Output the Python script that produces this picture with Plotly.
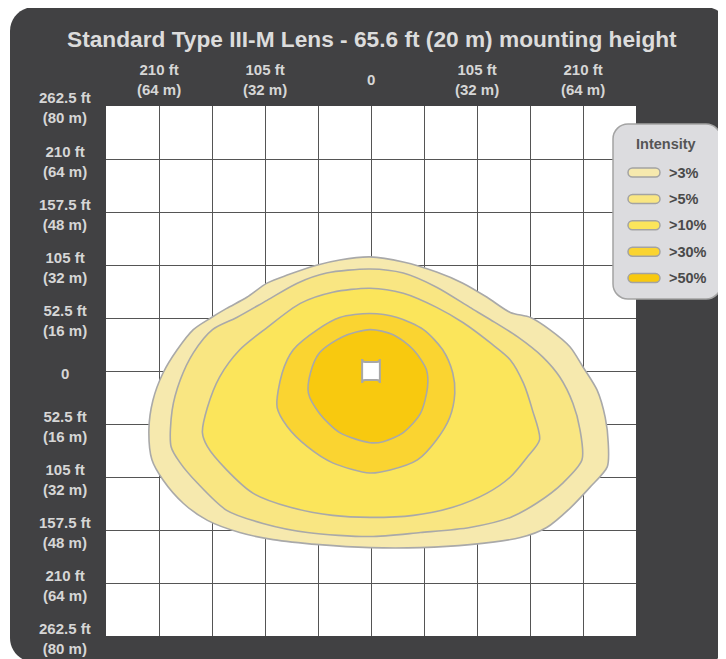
import plotly.graph_objects as go

# ---------------- data (feet) ----------------
title_text = "Standard Type III-M Lens - 65.6 ft (20 m) mounting height"

x_tick_vals = [-210, -105, 0, 105, 210]
x_tick_text = ["210 ft<br>(64 m)", "105 ft<br>(32 m)", "0", "105 ft<br>(32 m)", "210 ft<br>(64 m)"]

y_tick_vals = [262.5, 210, 157.5, 105, 52.5, 0, -52.5, -105, -157.5, -210, -262.5]
y_tick_text = ["262.5 ft<br>(80 m)", "210 ft<br>(64 m)", "157.5 ft<br>(48 m)", "105 ft<br>(32 m)",
               "52.5 ft<br>(16 m)", "0", "52.5 ft<br>(16 m)", "105 ft<br>(32 m)",
               "157.5 ft<br>(48 m)", "210 ft<br>(64 m)", "262.5 ft<br>(80 m)"]

grid_vals = [-262.5, -210, -157.5, -105, -52.5, 0, 52.5, 105, 157.5, 210, 262.5]

levels = [">3%", ">5%", ">10%", ">30%", ">50%"]
level_colors = ["#f6e9ae", "#f9e682", "#fbe55b", "#fad431", "#f8c90f"]

c3_x = [-1, 32, 65, 91, 115, 138, 158, 177, 197, 210, 224, 232, 235, 234, 217, 197, 174, 148, 98, 49, -1,
        -51, -97, -130, -162, -186, -206, -217, -220, -216, -206, -192, -176, -158, -143, -123, -103, -83, -53, -31]
c3_y = [113, 108, 98, 87, 73, 58, 53, 41, 24, 4, -19, -46, -71, -95, -115, -136, -155, -165, -172, -175, -175,
        -172, -167, -160, -148, -131, -108, -88, -58, -29, -2, 21, 41, 53, 62, 73, 87, 95, 105, 110]

c5_x = [-1, 32, 65, 98, 118, 145, 170, 187, 200, 207, 209, 190, 164, 138, 98, 49, -1,
        -63, -107, -143, -172, -189, -198, -197, -189, -176, -157, -133, -103, -73, -44]
c5_y = [101, 97, 83, 63, 51, 34, 14, -6, -32, -58, -88, -111, -131, -145, -155, -160, -164,
        -160, -151, -138, -111, -91, -75, -39, -9, 18, 41, 53, 70, 87, 97]

c10_x = [-1, 32, 65, 91, 118, 138, 151, 160, 167, 155, 138, 115, 81, 42, -1,
         -38, -80, -117, -143, -162, -167, -162, -150, -130, -103, -70, -38]
c10_y = [82, 77, 63, 48, 28, 11, -12, -39, -68, -85, -105, -121, -135, -143, -145,
         -143, -135, -121, -98, -75, -61, -36, -6, 21, 43, 67, 78]

c30_x = [-1, 26, 52, 71, 81, 83, 78, 65, 46, 19, -1, -38, -63, -83, -93, -88, -77, -53, -31]
c30_y = [57, 53, 41, 21, -2, -22, -46, -68, -88, -98, -101, -91, -75, -55, -36, -2, 21, 41, 53]

c50_x = [-1, 22, 42, 55, 56, 49, 32, 12, -1, -31, -51, -62, -60, -51, -28]
c50_y = [41, 36, 21, 1, -16, -42, -61, -70, -71, -61, -42, -22, -2, 18, 34]

contours_x = [c3_x, c5_x, c10_x, c30_x, c50_x]
contours_y = [c3_y, c5_y, c10_y, c30_y, c50_y]

pole_x, pole_y = 0, 0

# ---------------- layout helpers ----------------
OFF = 8                      # page body margin
W, H = 726 - OFF, 659 - OFF
PL, PR, PT, PB = 106, 636, 106, 636   # plot area in window pixels


def fx(x):
    return (x - OFF) / W


def fy(y):
    return 1 - (y - OFF) / H


def rrect_path(x0, y0, x1, y1, r, conv_x=fx, conv_y=fy):
    k = 0.5523 * r

    def P(x, y):
        return f"{conv_x(x):.5f},{conv_y(y):.5f}"
    d = f"M {P(x0 + r, y0)} L {P(x1 - r, y0)} "
    d += f"C {P(x1 - r + k, y0)} {P(x1, y0 + r - k)} {P(x1, y0 + r)} "
    d += f"L {P(x1, y1 - r)} "
    d += f"C {P(x1, y1 - r + k)} {P(x1 - r + k, y1)} {P(x1 - r, y1)} "
    d += f"L {P(x0 + r, y1)} "
    d += f"C {P(x0 + r - k, y1)} {P(x0, y1 - r + k)} {P(x0, y1 - r)} "
    d += f"L {P(x0, y0 + r)} "
    d += f"C {P(x0, y0 + r - k)} {P(x0 + r - k, y0)} {P(x0 + r, y0)} Z"
    return d


fig = go.Figure()

for i, (xs, ys) in enumerate(zip(contours_x, contours_y)):
    fig.add_trace(go.Scatter(
        x=list(xs) + [xs[0]], y=list(ys) + [ys[0]],
        mode="lines", fill="toself", fillcolor=level_colors[i],
        line=dict(color="#a9a9a9", width=1.6, shape="spline", smoothing=0.8),
        name=levels[i], showlegend=False, hoverinfo="skip"))

shapes = []
# dark background panel
shapes.append(dict(type="path", xref="paper", yref="paper", layer="below",
                   path=rrect_path(10, 7, 729, 662, 24),
                   fillcolor="#414143", line=dict(width=0)))
# white plot area
shapes.append(dict(type="rect", xref="paper", yref="paper", layer="below",
                   x0=fx(PL), x1=fx(PR), y0=fy(PB), y1=fy(PT),
                   fillcolor="#ffffff", line=dict(width=0)))

# pole marker (data coords, ft)
half = 8.8
rad = 3.0
ident = (lambda v: v)
shapes.append(dict(type="path", xref="x", yref="y", layer="above",
                   path=rrect_path(pole_x - half, pole_y + half, pole_x + half, pole_y - half, rad,
                                   conv_x=ident, conv_y=ident),
                   fillcolor="#ffffff", line=dict(color="#a8a8a8", width=2)))

# legend box
shapes.append(dict(type="path", xref="paper", yref="paper", layer="above",
                   path=rrect_path(613, 124, 721, 299, 15),
                   fillcolor="#dcdcdf", line=dict(color="#a3a3a3", width=1.5)))

annotations = []
leg_y0, leg_dy = 172.5, 26.4
for i, lab in enumerate(levels):
    yc = leg_y0 + i * leg_dy
    shapes.append(dict(type="path", xref="paper", yref="paper", layer="above",
                       path=rrect_path(628, yc - 4.5, 660, yc + 4.5, 4.5),
                       fillcolor=level_colors[i], line=dict(color="#a3a3a3", width=1.5)))
    annotations.append(dict(x=fx(667), y=fy(yc), xref="paper", yref="paper", text=f"<b>{lab}</b>",
                            showarrow=False, xanchor="left", yanchor="middle",
                            font=dict(size=14.5, color="#4a4a4a", family="Liberation Sans")))

annotations.append(dict(x=fx(666), y=fy(144), xref="paper", yref="paper", text="<b>Intensity</b>",
                        showarrow=False, xanchor="center", yanchor="middle",
                        font=dict(size=14.5, color="#555555", family="Liberation Sans")))

annotations.append(dict(x=fx(372), y=fy(39), xref="paper", yref="paper", text=f"<b>{title_text}</b>",
                        showarrow=False, xanchor="center", yanchor="middle",
                        font=dict(size=22.7, color="#dcdcdc", family="Liberation Sans")))

for v, t in zip(x_tick_vals, x_tick_text):
    annotations.append(dict(x=v, y=fy(80), xref="x", yref="paper", text=f"<b>{t}</b>",
                            showarrow=False, xanchor="center", yanchor="middle", align="center",
                            font=dict(size=15, color="#d6d6d6", family="Liberation Sans")))

for v, t in zip(y_tick_vals, y_tick_text):
    annotations.append(dict(x=fx(65), y=v, xref="paper", yref="y", text=f"<b>{t}</b>", yshift=-2,
                            showarrow=False, xanchor="center", yanchor="middle", align="center",
                            font=dict(size=15, color="#d6d6d6", family="Liberation Sans")))

axis_common = dict(range=[-262.5, 262.5], tickmode="array", tickvals=grid_vals,
                   showticklabels=False, showgrid=True, gridcolor="#555555", gridwidth=1.3,
                   zeroline=False, showline=False, ticks="", fixedrange=True)

fig.update_layout(
    width=W, height=H,
    margin=dict(l=0, r=0, t=0, b=0),
    paper_bgcolor="#ffffff", plot_bgcolor="#ffffff",
    xaxis=dict(domain=[fx(PL), fx(PR)], **axis_common),
    yaxis=dict(domain=[fy(PB), fy(PT)], **axis_common),
    shapes=shapes, annotations=annotations,
    showlegend=False,
)

fig.write_html("out.html")
